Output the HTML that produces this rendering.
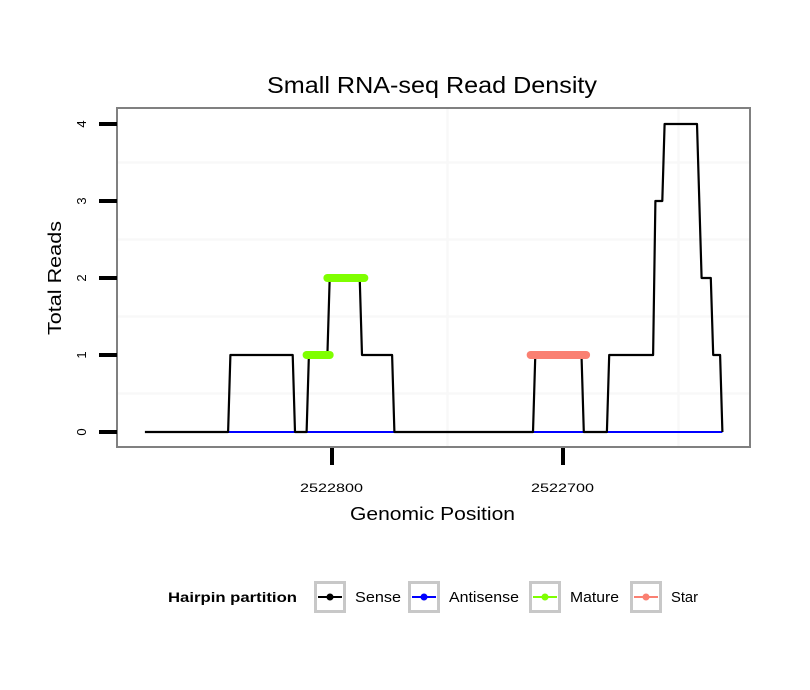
<!DOCTYPE html>
<html><head><meta charset="utf-8"><style>
body{margin:0;background:#fff}
svg{display:block;font-family:"Liberation Sans",sans-serif}
</style></head><body>
<svg id="chart" width="810" height="690" viewBox="0 0 810 690">
<g id="grid"></g>
<rect x="117" y="108" width="633" height="339" fill="none" stroke="#808080" stroke-width="2"/>
<g id="series"></g>
<g id="axes"></g>
<text x="267" y="93" textLength="330" lengthAdjust="spacingAndGlyphs" font-size="23">Small RNA-seq Read Density</text>
<text x="350" y="520" textLength="165" lengthAdjust="spacingAndGlyphs" font-size="18">Genomic Position</text>
<text transform="translate(61,335) rotate(-90)" textLength="114" lengthAdjust="spacingAndGlyphs" font-size="18">Total Reads</text>
<g id="legend">
<text x="168" y="602" textLength="129" lengthAdjust="spacingAndGlyphs" font-size="14" font-weight="bold">Hairpin partition</text>
</g>
</svg>
<script>
const senseX=[2522881,2522845,2522844,2522817,2522816,2522811,2522810,2522802,2522801,2522788,2522787,2522774,2522773,2522713,2522712,2522692,2522691,2522681,2522680,2522661,2522660,2522657,2522656,2522642,2522640,2522636,2522635,2522632,2522631];
const senseY=[0,0,1,1,0,0,1,1,2,2,1,1,0,0,1,1,0,0,1,1,3,3,4,4,2,2,1,1,0];
const antisenseStart=[2522845,2522811,2522713,2522681];
const antisenseEnd=[2522816,2522773,2522691,2522631];
const antisenseVal=[0,0,0,0];
const matureStart=[2522811,2522802];
const matureEnd=[2522801,2522786];
const matureVal=[1,2];
const starStart=[2522714];
const starEnd=[2522690];
const starVal=[1];
const xTicks=[2522800,2522700];
const yTicks=[0,1,2,3,4];
const legendLabels=["Sense","Antisense","Mature","Star"];
const legendColors=["#000000","#0000ff","#7fff00","#fa8072"];

const NS="http://www.w3.org/2000/svg";
function X(p){return 332+(2522800-p)*2.31;}
function Y(v){return 432-v*77;}
function mk(tag,attrs,parent){const e=document.createElementNS(NS,tag);for(const k in attrs)e.setAttribute(k,attrs[k]);parent.appendChild(e);return e;}
const grid=document.getElementById('grid'),series=document.getElementById('series'),axes=document.getElementById('axes'),legend=document.getElementById('legend');

[3.5,2.5,1.5,0.5].forEach(v=>{const l=mk('line',{x1:118,x2:749,y1:Y(v),y2:Y(v),stroke:'#f8f8f8','stroke-width':2.5},grid);

});
[2522750,2522650].forEach(p=>{const l=mk('line',{x1:X(p),x2:X(p),y1:109,y2:446,stroke:'#f8f8f8','stroke-width':2.5},grid);

});

for(let i=0;i<antisenseStart.length;i++){const l=mk('line',{x1:X(antisenseStart[i]),x2:X(antisenseEnd[i]),y1:Y(antisenseVal[i]),y2:Y(antisenseVal[i]),stroke:'#0000ff','stroke-width':2},series);

}
const pts=senseX.map((p,i)=>X(p).toFixed(1)+','+Y(senseY[i]).toFixed(1));
const pl=mk('polyline',{points:pts.join(' '),fill:'none',stroke:'#000','stroke-width':2.2,'stroke-linejoin':'round'},series);


for(let i=0;i<matureStart.length;i++){const l=mk('line',{x1:X(matureStart[i]),x2:X(matureEnd[i]),y1:Y(matureVal[i]),y2:Y(matureVal[i]),stroke:'#7fff00','stroke-width':8,'stroke-linecap':'round'},series);

}
for(let i=0;i<starStart.length;i++){const l=mk('line',{x1:X(starStart[i]),x2:X(starEnd[i]),y1:Y(starVal[i]),y2:Y(starVal[i]),stroke:'#fa8072','stroke-width':8,'stroke-linecap':'round'},series);

}

yTicks.forEach(v=>{const t=mk('line',{x1:99,x2:117,y1:Y(v),y2:Y(v),stroke:'#000','stroke-width':4},axes);


const tx=mk('text',{transform:'translate('+86+','+Y(v)+') rotate(-90)','text-anchor':'middle','font-size':13},axes);
tx.textContent=v;

});
xTicks.forEach(p=>{const t=mk('line',{x1:X(p),x2:X(p),y1:448,y2:465,stroke:'#000','stroke-width':4},axes);


const tx=mk('text',{x:X(p)-32,y:492,textLength:63,lengthAdjust:'spacingAndGlyphs','font-size':12},axes);
tx.textContent=p;

});

const boxX=[314,408,529,630];
const labelLen=[46,70,49,27];
legendLabels.forEach((lab,i)=>{const bx=boxX[i];
const r=mk('rect',{x:bx+1.5,y:582.5,width:29,height:29,fill:'#fff',stroke:'#c8c8c8','stroke-width':3},legend);


mk('line',{x1:bx+4,x2:bx+28,y1:597,y2:597,stroke:legendColors[i],'stroke-width':2},legend);
mk('circle',{cx:bx+16,cy:597,r:3.5,fill:legendColors[i]},legend);
const tx=mk('text',{x:bx+41,y:602,textLength:labelLen[i],lengthAdjust:'spacingAndGlyphs','font-size':15},legend);
tx.textContent=lab;

});
</script>
</body></html>
